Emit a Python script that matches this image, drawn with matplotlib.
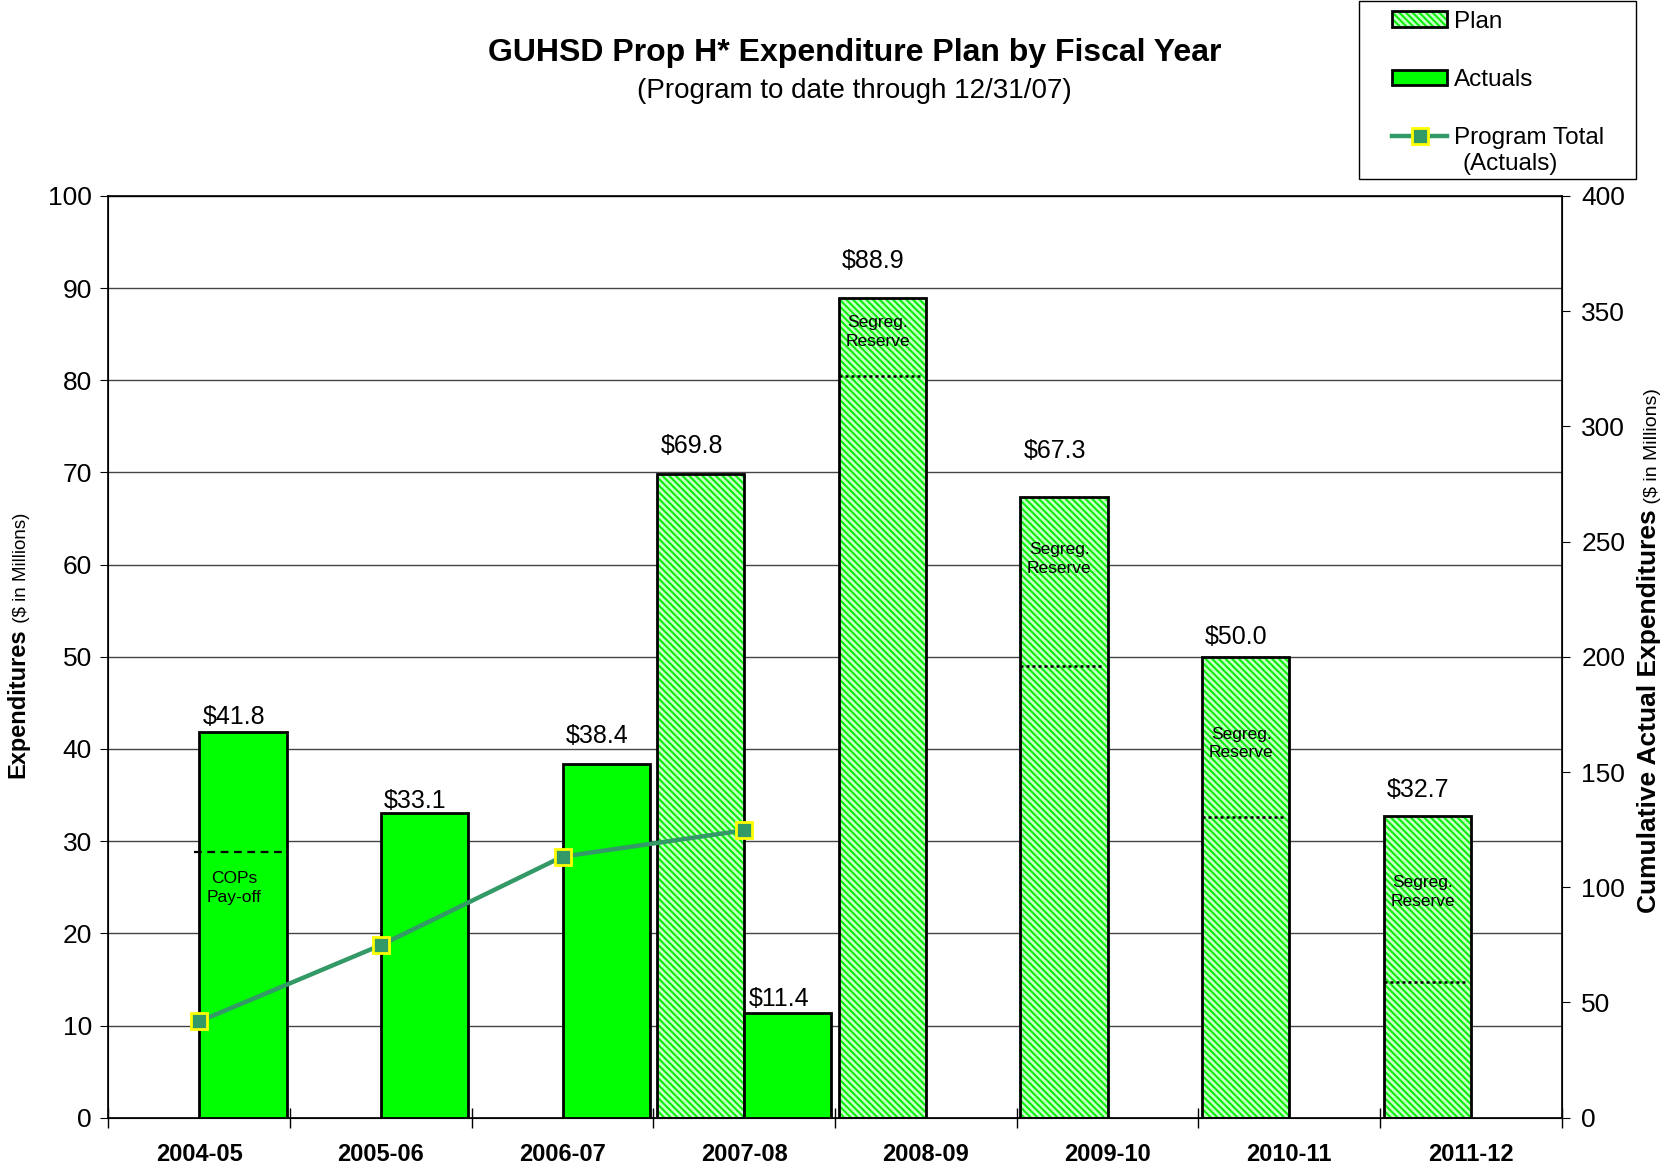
import numpy as np
import matplotlib
matplotlib.use('Agg')
import matplotlib.pyplot as plt
from matplotlib.patches import Patch, Rectangle
from matplotlib.lines import Line2D

plt.rcParams['font.family'] = ['Liberation Sans', 'DejaVu Sans']
plt.rcParams['hatch.linewidth'] = 1.4

years = ["2004-05", "2005-06", "2006-07", "2007-08", "2008-09",
         "2009-10", "2010-11", "2011-12"]
plan = [np.nan, np.nan, np.nan, 69.8, 88.9, 67.3, 50.0, 32.7]
actuals = [41.8, 33.1, 38.4, 11.4, np.nan, np.nan, np.nan, np.nan]
reserve_line = [np.nan, np.nan, np.nan, np.nan, 80.5, 49.0, 32.6, 14.7]
cops_line = 28.8
# where the small notes sit inside the bars
reserve_text_y = [np.nan, np.nan, np.nan, np.nan, 85.2, 60.6, 40.6, 24.5]
cops_text_y = 24.9
# label offsets above bar tops (points)
plan_offsets = [0, 0, 0, 20, 27, 33, 14, 19]
actual_offsets = [11, 8, 20, 10, 0, 0, 0, 0]

PLAN_FACE = "#c4ffc4"
PLAN_HATCH = "#00ee00"
ACT_GREEN = "#00ff00"
LINE_GREEN = "#339966"
HATCH = "\\\\\\\\\\"

fig = plt.figure(figsize=(16.69, 11.70), dpi=100)
ax = fig.add_axes([0.065, 0.0447, 0.9357 - 0.065, 0.8326 - 0.0447])
x = np.arange(len(years))
w = 0.48

# plan bars: hatched fill then black outline
ax.bar(x - w / 2, plan, w, color=PLAN_FACE, edgecolor=PLAN_HATCH,
       hatch=HATCH, linewidth=0, zorder=2)
ax.bar(x - w / 2, plan, w, fill=False, edgecolor="black", linewidth=2, zorder=3)
ax.bar(x + w / 2, actuals, w, color=ACT_GREEN, edgecolor="black",
       linewidth=2, zorder=3)

for i in range(len(years)):
    if not np.isnan(plan[i]):
        ax.annotate("$%.1f" % plan[i], (x[i] - w / 2 - 0.05, plan[i]),
                    xytext=(0, plan_offsets[i]), textcoords="offset points",
                    ha="center", va="center", fontsize=18, zorder=5)
    if not np.isnan(actuals[i]):
        ax.annotate("$%.1f" % actuals[i], (x[i] + w / 2 - 0.05, actuals[i]),
                    xytext=(0, actual_offsets[i]), textcoords="offset points",
                    ha="center", va="center", fontsize=18, zorder=5)
    if not np.isnan(reserve_line[i]):
        ax.plot([x[i] - w, x[i] - 0.02], [reserve_line[i]] * 2, color="black",
                linestyle=(0, (1.2, 1.2)), linewidth=1.8, zorder=4)
        ax.text(x[i] - w / 2 - 0.025, reserve_text_y[i], "Segreg.\nReserve",
                ha="center", va="center", fontsize=12.5, linespacing=1.3,
                zorder=5)

# COPs pay-off marker
ax.plot([x[0] - 0.03, x[0] + w], [cops_line] * 2, color="black",
        linestyle=(0, (3.5, 2.5)), linewidth=1.6, zorder=4)
ax.text(x[0] + w / 2 - 0.05, cops_text_y, "COPs\nPay-off", ha="center",
        va="center", fontsize=12.5, linespacing=1.3, zorder=5)

ax.set_xlim(-0.5, len(years) - 0.5)
ax.set_ylim(0, 100)
ax.set_yticks(np.arange(0, 101, 10))
ax.yaxis.grid(True, color="#444444", linewidth=1)
ax.set_axisbelow(True)
ax.set_xticks(x)
ax.set_xticklabels(years, fontsize=17, fontweight="bold")
ax.set_xticks(np.arange(-0.5, len(years)), minor=True)
ax.tick_params(axis="x", which="major", length=0, pad=18)
ax.tick_params(axis="x", which="minor", direction="inout", length=14, width=1)
ax.tick_params(axis="y", labelsize=19, direction="out", length=6, pad=6)
for s in ax.spines.values():
    s.set_linewidth(1.2)

ax2 = ax.twinx()
cumulative = np.nancumsum(actuals)[:4]
ax2.plot(x[:4], cumulative, color=LINE_GREEN, linewidth=3.2, marker="s",
         markersize=12, markerfacecolor=LINE_GREEN, markeredgecolor="#ffff00",
         markeredgewidth=2, zorder=6)
ax2.set_ylim(0, 400)
ax2.set_yticks(np.arange(0, 401, 50))
ax2.tick_params(axis="y", labelsize=19, direction="out", length=6, pad=8)

# axis titles (bold main + smaller unit)
t1 = fig.text(0.004, 0.335, "Expenditures", rotation=90, fontsize=17,
              fontweight="bold", ha="left", va="bottom")
ax.annotate(" ($ in Millions)", xy=(1, 1), xycoords=t1, rotation=90,
            fontsize=13.5, ha="right", va="bottom")
t2 = fig.text(0.981, 0.2197, "Cumulative Actual Expenditures", rotation=90,
              fontsize=19, fontweight="bold", ha="left", va="bottom")
ax.annotate(" ($ in Millions)", xy=(1, 1), xycoords=t2, rotation=90,
            fontsize=14, ha="right", va="bottom")

fig.text(0.512, 0.9547, "GUHSD Prop H* Expenditure Plan by Fiscal Year",
         ha="center", va="center", fontsize=23, fontweight="bold")
fig.text(0.512, 0.9218, "(Program to date through 12/31/07)",
         ha="center", va="center", fontsize=20)

plan_handle = (Patch(facecolor=PLAN_FACE, edgecolor=PLAN_HATCH, hatch=HATCH,
                     linewidth=0),
               Patch(fill=False, edgecolor="black", linewidth=2))
handles = [
    plan_handle,
    Patch(facecolor=ACT_GREEN, edgecolor="black", linewidth=2),
    Line2D([0], [0], color=LINE_GREEN, linewidth=3.2, marker="s", markersize=11,
           markerfacecolor=LINE_GREEN, markeredgecolor="#ffff00",
           markeredgewidth=2),
]
leg = fig.legend(handles, ["Plan", "Actuals", "Program Total"],
                 loc="upper left", bbox_to_anchor=(0.834, 0.991),
                 fontsize=17.5, frameon=False,
                 handlelength=2.27, handleheight=0.6, handletextpad=0.27,
                 labelspacing=1.5, borderpad=0, borderaxespad=0)
fig.text(0.8765, 1 - 164 / 1170, "(Actuals)", fontsize=17.5, ha="left",
         va="center")
fig.patches.append(Rectangle((0.8143, 0.847), 0.9802 - 0.8143, 0.9991 - 0.847,
                             transform=fig.transFigure, fill=False,
                             edgecolor="black", linewidth=1))

fig.savefig("out.png", dpi=100)
